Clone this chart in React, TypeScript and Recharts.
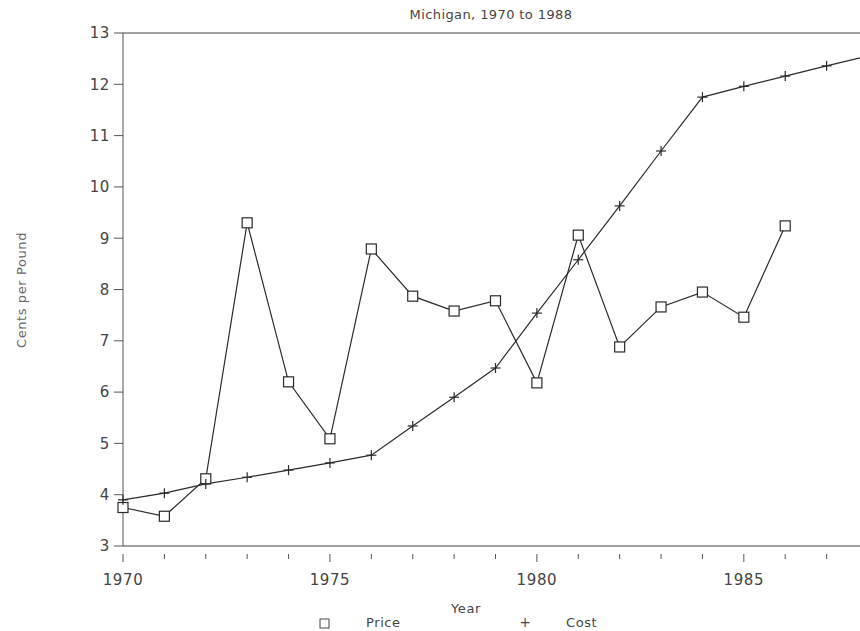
import React from "react";
import { Line, LineChart, ReferenceLine, XAxis, YAxis } from "recharts";

const years = [
  1970, 1971, 1972, 1973, 1974, 1975, 1976, 1977, 1978, 1979, 1980, 1981,
  1982, 1983, 1984, 1985, 1986, 1987, 1988
];
const price = [
  3.75, 3.58, 4.31, 9.3, 6.2, 5.09, 8.79, 7.87, 7.58, 7.78, 6.18, 9.06, 6.88,
  7.66, 7.95, 7.46, 9.24, null, null
];
const cost = [
  3.9, 4.03, 4.21, 4.34, 4.48, 4.62, 4.77, 5.34, 5.9, 6.47, 7.54, 8.58, 9.63,
  10.7, 11.75, 11.96, 12.16, 12.36, 12.55
];
const yTicks = [3, 4, 5, 6, 7, 8, 9, 10, 11, 12, 13];
const labelledYears = [1970, 1975, 1980, 1985];

const data = years.map((year, i) => ({ year, price: price[i], cost: cost[i] }));

const FONT = "'DejaVu Sans', sans-serif";
const INK = "#2a2a2a";
const TEXT = "#444";

const YearTick = (props: any) => {
  const { x, y, payload } = props;
  const major = labelledYears.includes(payload.value);
  return (
    <g>
      <line x1={x} x2={x} y1={y} y2={y + (major ? 8 : 5)} stroke="#555" />
      {major && (
        <text
          x={x}
          y={y + 31}
          textAnchor="middle"
          fontSize={15}
          letterSpacing={0.6}
          fill={TEXT}
          fontFamily={FONT}
        >
          {payload.value}
        </text>
      )}
    </g>
  );
};

const SquareDot = (props: any) => {
  const { cx, cy, value } = props;
  if (value == null || cx == null || cy == null) return null;
  return <rect x={cx - 5} y={cy - 5} width={10} height={10} fill="#fff" stroke={INK} strokeWidth={1.2} />;
};

const PlusDot = (props: any) => {
  const { cx, cy } = props;
  if (cx == null || cy == null) return null;
  return (
    <g stroke={INK} strokeWidth={1.2}>
      <line x1={cx - 5} x2={cx + 5} y1={cy} y2={cy} />
      <line x1={cx} x2={cx} y1={cy - 5} y2={cy + 5} />
    </g>
  );
};

const App = () => (
  <div style={{ position: "fixed", left: 0, top: 0, width: 860, height: 631, overflow: "hidden", background: "#fff" }}>
    <LineChart width={880} height={631} data={data} margin={{ top: 33, right: 12, bottom: 25, left: 0 }}>
      <XAxis
        dataKey="year"
        type="number"
        domain={[1970, 1988]}
        ticks={years}
        interval={0}
        tick={<YearTick />}
        tickLine={false}
        axisLine={{ stroke: "#444" }}
        height={60}
      />
      <YAxis
        type="number"
        domain={[3, 13]}
        ticks={yTicks}
        interval={0}
        width={123}
        tickSize={9}
        tickMargin={4}
        tick={{ fontSize: 15, fill: TEXT, fontFamily: FONT, letterSpacing: 0.6 }}
        tickLine={{ stroke: "#555" }}
        axisLine={{ stroke: "#555" }}
      />
      <ReferenceLine y={13} stroke="#444" />
      <Line
        dataKey="price"
        stroke={INK}
        strokeWidth={1.2}
        dot={<SquareDot />}
        isAnimationActive={false}
        connectNulls={false}
      />
      <Line
        dataKey="cost"
        stroke={INK}
        strokeWidth={1.2}
        dot={<PlusDot />}
        isAnimationActive={false}
      />
      <text x={491} y={19} textAnchor="middle" fontSize={13} letterSpacing={0.4} fill={TEXT} fontFamily={FONT}>
        Michigan, 1970 to 1988
      </text>
      <text
        x={22}
        y={290}
        transform="rotate(-90 22 290)"
        textAnchor="middle"
        dominantBaseline="middle"
        fontSize={13}
        letterSpacing={0.6}
        fill="#666"
        fontFamily={FONT}
      >
        Cents per Pound
      </text>
      <text x={466} y={613} textAnchor="middle" fontSize={13} letterSpacing={0.6} fill={TEXT} fontFamily={FONT}>
        Year
      </text>
      <rect x={320} y={619} width={9} height={9} fill="none" stroke={TEXT} />
      <text x={366} y={627} fontSize={13} letterSpacing={0.6} fill={TEXT} fontFamily={FONT}>
        Price
      </text>
      <text x={525} y={627} textAnchor="middle" fontSize={14} fill={TEXT} fontFamily={FONT}>
        +
      </text>
      <text x={566} y={627} fontSize={13} letterSpacing={0.6} fill={TEXT} fontFamily={FONT}>
        Cost
      </text>
    </LineChart>
  </div>
);

export default App;
